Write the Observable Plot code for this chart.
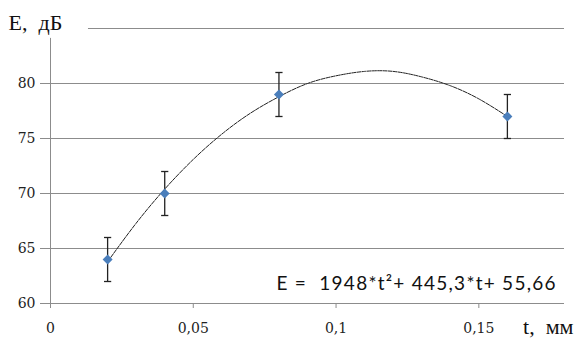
<!DOCTYPE html>
<html><head><meta charset="utf-8">
<script src="https://cdn.jsdelivr.net/npm/d3@7"></script>
<script src="https://cdn.jsdelivr.net/npm/@observablehq/plot@0.6"></script>
<style>body{margin:0;background:#fff}</style>
</head><body><div id="chart"></div>
<script>
// measured points
const thickness = [0.02, 0.04, 0.08, 0.16];
const efficiency = [64, 70, 79, 77];
const errors = [2, 2, 2, 2];
// trend line
const trendT = [0.02, 0.03, 0.04, 0.05, 0.06, 0.07, 0.08, 0.09, 0.10, 0.11, 0.12, 0.13, 0.14, 0.15, 0.16];
const trendE = [63.8, 67.3, 70.4, 73.1, 75.4, 77.3, 78.8, 80.0, 80.7, 81.1, 81.1, 80.6, 79.8, 78.6, 77.0];
const yTicks = [60, 65, 70, 75, 80];
const gridY = [65, 70, 75, 80, 85];
const xTicks = [0, 0.05, 0.1, 0.15];
const equation = "E =  1948*t²+ 445,3*t+ 55,66";
const yTitle = "E,  дБ";
const xTitle = "t,  мм";

const pts = thickness.map((t, i) => ({t, e: efficiency[i], lo: efficiency[i] - errors[i], hi: efficiency[i] + errors[i]}));
const trend = trendT.map((t, i) => ({t, e: trendE[i]}));
const cap = {draw(ctx, size) { const r = Math.sqrt(size / Math.PI); ctx.moveTo(-r, 0); ctx.lineTo(r, 0); }};
const grid = "#8c8c8c";
const serif = "DejaVu Serif";

const chart = Plot.plot({
  width: 574, height: 341,
  marginLeft: 50, marginRight: 10, marginTop: 28, marginBottom: 38,
  style: {background: "#fff", fontFamily: serif, fontSize: "14px", color: "#222"},
  x: {domain: [0, 0.18]},
  y: {domain: [60, 85]},
  marks: [
    Plot.ruleY(gridY, {x1: d => d === 85 ? 0.0133 : 0, x2: 0.18, stroke: grid, strokeWidth: 1, strokeOpacity: 1}),
    Plot.ruleY([60], {stroke: grid, strokeOpacity: 1}),
    Plot.ruleX([0], {y1: 60, y2: 84.1, stroke: grid, strokeOpacity: 1}),
    Plot.axisY({ticks: yTicks, tickSize: 10, tickPadding: 5, stroke: grid, label: null, fontFamily: serif, fontSize: 14}),
    Plot.axisX({ticks: xTicks, tickSize: 5, tickPadding: 15, stroke: grid, label: null, fontFamily: serif, fontSize: 14,
      tickFormat: d => String(d).replace(".", ",")}),
    Plot.line(trend, {x: "t", y: "e", curve: "natural", stroke: "#222", strokeWidth: 1, strokeDasharray: "4,1.2"}),
    Plot.ruleX(pts, {x: "t", y1: "lo", y2: "hi", stroke: "#222", strokeWidth: 1.3}),
    Plot.dot(pts, {x: "t", y: "lo", symbol: cap, r: 3.6, stroke: "#222", strokeWidth: 1.3}),
    Plot.dot(pts, {x: "t", y: "hi", symbol: cap, r: 3.6, stroke: "#222", strokeWidth: 1.3}),
    Plot.dot(pts, {x: "t", y: "e", symbol: "diamond2", r: 4.5, fill: "#4a7ebb", stroke: "none"}),
    Plot.text([equation], {frameAnchor: "bottom-right", textAnchor: "end", lineAnchor: "bottom", dx: -9, dy: -14,
      fontFamily: "Lato", fontSize: 19, fill: "#111", className: "eq"}),
    Plot.text([yTitle], {frameAnchor: "top-left", textAnchor: "start", lineAnchor: "bottom", dx: -42, dy: 1,
      fontFamily: "Liberation Serif", fontSize: 22, fill: "#111"}),
    Plot.text([xTitle], {frameAnchor: "bottom-right", textAnchor: "end", lineAnchor: "bottom", dx: 9, dy: 30,
      fontFamily: "Liberation Serif", fontSize: 22, fill: "#111"})
  ]
});
d3.select(chart).selectAll(".eq text").attr("textLength", 279).attr("lengthAdjust", "spacing");
document.getElementById("chart").append(chart);
</script>
</body></html>
